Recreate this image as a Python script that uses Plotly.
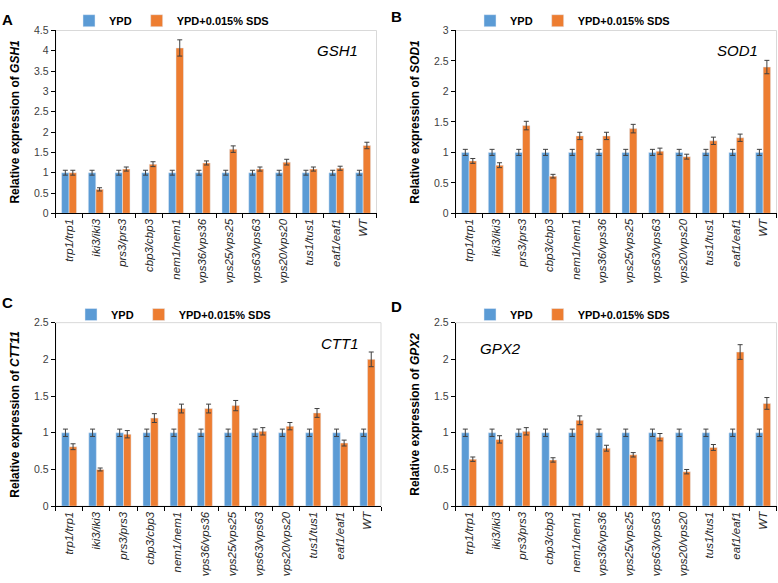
import plotly.graph_objects as go

strains = ["trp1/trp1", "iki3/iki3", "prs3/prs3", "cbp3/cbp3", "nem1/nem1", "vps36/vps36",
           "vps25/vps25", "vps63/vps63", "vps20/vps20", "tus1/tus1", "eaf1/eaf1", "WT"]

ypd = [1, 1, 1, 1, 1, 1, 1, 1, 1, 1, 1, 1]

gsh1_ypd_err = [0.06] * 12
gsh1_sds = [1.0, 0.59, 1.09, 1.21, 4.07, 1.24, 1.58, 1.09, 1.26, 1.09, 1.11, 1.67]
gsh1_sds_err = [0.06, 0.04, 0.05, 0.06, 0.20, 0.05, 0.08, 0.05, 0.07, 0.05, 0.05, 0.08]

sod1_ypd_err = [0.05] * 12
sod1_sds = [0.86, 0.79, 1.44, 0.61, 1.27, 1.27, 1.39, 1.02, 0.93, 1.19, 1.24, 2.40]
sod1_sds_err = [0.04, 0.04, 0.07, 0.03, 0.06, 0.06, 0.07, 0.05, 0.04, 0.06, 0.06, 0.11]

ctt1_ypd_err = [0.05] * 12
ctt1_sds = [0.81, 0.50, 0.98, 1.20, 1.33, 1.33, 1.37, 1.02, 1.09, 1.27, 0.86, 2.00]
ctt1_sds_err = [0.04, 0.02, 0.05, 0.06, 0.06, 0.06, 0.07, 0.05, 0.05, 0.06, 0.04, 0.10]

gpx2_ypd_err = [0.05] * 12
gpx2_sds = [0.64, 0.91, 1.02, 0.63, 1.17, 0.79, 0.70, 0.94, 0.47, 0.80, 2.10, 1.40]
gpx2_sds_err = [0.03, 0.05, 0.05, 0.03, 0.06, 0.04, 0.03, 0.05, 0.03, 0.04, 0.10, 0.08]

genes = ["GSH1", "SOD1", "CTT1", "GPX2"]
ytitle_genes = ["GSH1", "SOD1", "CTT11", "GPX2"]
letters = ["A", "B", "C", "D"]
y_max = [4.5, 3, 2.5, 2.5]

BLUE = "#5B9BD5"
ORANGE = "#ED7D31"
FONT = "Liberation Sans, Arial, sans-serif"
W, H = 778, 583

panels = [
    (gsh1_ypd_err, gsh1_sds, gsh1_sds_err),
    (sod1_ypd_err, sod1_sds, sod1_sds_err),
    (ctt1_ypd_err, ctt1_sds, ctt1_sds_err),
    (gpx2_ypd_err, gpx2_sds, gpx2_sds_err),
]

# plot-area pixel boxes: (left, right, top, bottom)
boxes = [(55.7, 376.5, 25, 211.7), (455.7, 776.5, 25, 211.7),
         (55.7, 381.0, 323.3, 510.7), (455.7, 776.5, 323.3, 510.7)]
legend_left = [69, 470, 71, 470]
legend_yc = [15, 15, 315, 315]
letter_pos = [(0, 13.5), (389, 11), (0, 302.5), (389, 307)]
gene_pos = [(337, 45), (737, 45), (340, 345), (500, 350)]

fig = go.Figure()
layout = dict(
    width=W, height=H, margin=dict(l=0, r=0, t=0, b=0),
    paper_bgcolor="white", plot_bgcolor="white",
    barmode="group", bargap=0.44, bargroupgap=0, hovermode=False,
    font=dict(family=FONT, size=11, color="#404040"),
    annotations=[], shapes=[],
)

for i, (yerr, sds, sds_err) in enumerate(panels):
    n = "" if i == 0 else str(i + 1)
    leg = "legend" if i == 0 else f"legend{i+1}"
    fig.add_trace(go.Bar(
        x=strains, y=ypd, name="YPD", marker_color=BLUE,
        error_y=dict(type="data", array=yerr, color="#404040", thickness=1, width=2.5),
        xaxis="x" + n, yaxis="y" + n, legend=leg,
    ))
    fig.add_trace(go.Bar(
        x=strains, y=sds, name="YPD+0.015% SDS", marker_color=ORANGE,
        error_y=dict(type="data", array=sds_err, color="#404040", thickness=1, width=2.5),
        xaxis="x" + n, yaxis="y" + n, legend=leg,
    ))
    l, r, t, b = boxes[i]
    layout["xaxis" + n] = dict(
        domain=[l / W, r / W], anchor="y" + n, type="category",
        showline=True, linecolor="#000000", linewidth=1,
        ticks="outside", ticklen=4, tickcolor="#000000", tickson="boundaries",
        tickangle=-90, tickfont=dict(family=FONT, size=11.5, color="#262626", style="italic"),
        showgrid=False, zeroline=False, fixedrange=True,
    )
    layout["yaxis" + n] = dict(
        domain=[1 - b / H, 1 - t / H], anchor="x" + n, range=[0, y_max[i]], dtick=0.5,
        showline=True, linecolor="#000000", linewidth=1,
        ticks="outside", ticklen=4, tickcolor="#000000",
        tickfont=dict(family=FONT, size=10.5, color="#404040"),
        showgrid=False, zeroline=False, fixedrange=True,
        title=dict(text=f"<b>Relative expression of <i>{ytitle_genes[i]}</i></b>",
                   font=dict(family=FONT, size=12, color="#000000"), standoff=11),
    )
    layout[leg] = dict(
        orientation="h", x=legend_left[i] / W, xanchor="left",
        y=1 - legend_yc[i] / H, yanchor="middle",
        font=dict(family=FONT, size=11, color="#000000", weight="bold"),
        bgcolor="rgba(0,0,0,0)", traceorder="normal",
    )
    layout["shapes"].append(dict(
        type="rect", xref=f"x{n} domain", yref=f"y{n} domain", x0=0, x1=1, y0=0, y1=1,
        line=dict(color="#D9D9D9", width=1), layer="below",
    ))
    lx, ly = letter_pos[i]
    layout["annotations"].append(dict(
        text=f"<b>{letters[i]}</b>", x=lx / W, y=1 - ly / H, xref="paper", yref="paper",
        xanchor="left", yanchor="middle", showarrow=False,
        font=dict(family=FONT, size=15, color="#000000"),
    ))
    gx, gy = gene_pos[i]
    layout["annotations"].append(dict(
        text=f"<i>{genes[i]}</i>", x=gx / W, y=1 - gy / H, xref="paper", yref="paper",
        xanchor="center", yanchor="middle", showarrow=False,
        font=dict(family=FONT, size=15, color="#000000"),
    ))

fig.update_layout(**layout)
fig.write_html("out.html", config={"displayModeBar": False},
               post_script="document.body.style.margin='0';")
